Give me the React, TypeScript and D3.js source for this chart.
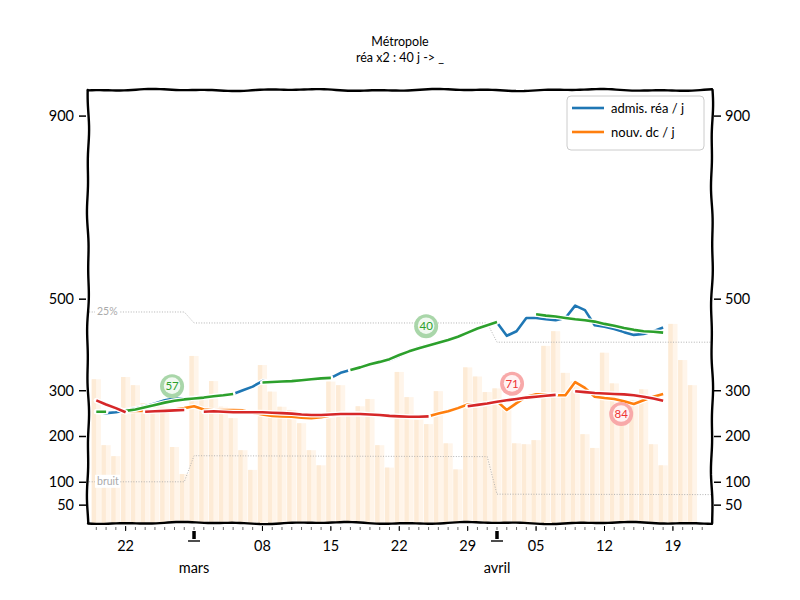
import React from "react";
import * as d3 from "d3";

// ---------- data ----------
const SERIES_START = "2021-02-19"; // first day of the daily series
const BARS_START = "2021-02-19";

// admissions en réa / jour (raw daily)
const admisRea = [
  254, 251, 253, 257, 261, 266, 272, 279, 283, 283,
  284, 286, 288, 290, 293, 301, 309, 321, 319, 320, 321, 323, 325, 327, 328, 339, 345, 352, 358, 364, 367, 376, 386, 395, 400, 404, 410, 418, 427, 436, 443,
  449, 420, 430, 459, 459, 456, 454, 459, 486, 476, 443, 440, 435, 428, 422, 424, 430, 438,
];
// nouveaux décès / jour (raw daily)
const nouvDc = [
  278, 270, 262, 255, 256, 256, 257, 258, 259, 262,
  266, 259, 257, 258, 258, 257, 252, 248, 245, 244, 243, 241, 240, 242, 246, 249, 250, 249, 248, 247, 246, 244, 243, 242, 244, 250, 255, 262, 270, 268, 272,
  277, 258, 273, 287, 292, 292, 290, 290, 319, 306, 287, 284, 282, 277, 271, 279, 287, 293,
];
// smoothed réa (drawn in segments)
const reaSmooth: (number | null)[] = [
  254, 254, null, 256, 259, 264, 269, 274, 278, 281,
  283, 285, 288, 290, 293, null, null, 318, 319, 320, 321, 323, 325, 327, 328, null, 345, 351, 358, 363, 369, 378, 386, 393, 399, 405, 411, 418, 427, 436, 443,
  450, null, null, null, 467, 464, 462, 459, 456, 454, 451, 446, 442, 437, 433, 430, 429, 427,
];
// smoothed décès (drawn in segments)
const dcSmooth: (number | null)[] = [
  279, 270, 262, 253, null, 254, 255, 256, 257, 258,
  null, 254, 255, 254, 253, 253, 253, 253, 252, 251, 250, 248, 247, 247, 248, 249, 249, 249, 248, 247, 245, 244, 243, 243, 244, null, null, null, 266, 269, 272,
  276, 279, 282, 285, 287, 289, 291, null, 299, 297, 295, 294, 293, 292, 290, 287, 283, 278,
];
// daily background bars
const barValues = [
  325, 181, 157, 330, 312, 273, 270, 265, 177, 118,
  376, 290, 321, 265, 240, 170, 127, 356, 298, 265, 258, 229, 170, 137, 320, 312, 254, 266, 282, 181, 132, 341, 286, 243, 227, 299, 185, 128, 351, 331, 297,
  305, 265, 185, 183, 192, 398, 430, 339, 320, 205, 175, 383, 316, 280, 280, 303, 183, 137, 446, 367, 312,
];

// reference levels
const refDates = ["2021-02-18", "2021-02-28", "2021-03-01", "2021-03-31", "2021-04-01", "2021-04-23"];
const ref25 = [472, 472, 448, 448, 406, 406];
const refBruit = [101, 101, 158, 156, 74, 73];

// axes
const yTicks = [50, 100, 200, 300, 500, 900];
const weekTickDates = ["2021-02-22", "2021-03-08", "2021-03-15", "2021-03-22", "2021-03-29", "2021-04-05", "2021-04-12", "2021-04-19"];
const weekTickLabels = ["22", "08", "15", "22", "29", "05", "12", "19"];
const monthTickDates = ["2021-03-01", "2021-04-01"];
const monthTickLabels = ["mars", "avril"];

// round annotations
const annotDates = ["2021-02-26T18:00:00Z", "2021-03-24T18:00:00Z", "2021-04-02T13:00:00Z", "2021-04-13T17:00:00Z"];
const annotValues = [310, 441, 315, 249];
const annotLabels = ["57", "40", "71", "84"];
const annotKinds = ["g", "g", "r", "r"];

const legendLabels = ["admis. réa / j", "nouv. dc / j"];

// ---------- layout ----------
const W = 800, H = 600;
const L = 88, R = 712, T = 90, B = 523;
const FONT = "Lato, 'DejaVu Sans', sans-serif";
const C = { blue: "#1f77b4", orange: "#ff7f0e", green: "#2ca02c", red: "#d62728" };

const parse = (s: string) => new Date(s.length > 10 ? s : s + "T00:00:00Z");
const dayAt = (start: string, i: number) => d3.utcDay.offset(parse(start), i);

function wiggle(x1: number, y1: number, x2: number, y2: number, amp = 1.1, seed = 0) {
  const len = Math.hypot(x2 - x1, y2 - y1);
  const n = Math.max(2, Math.round(len / 4));
  const nx = -(y2 - y1) / len, ny = (x2 - x1) / len;
  const pts: [number, number][] = d3.range(n + 1).map((i) => {
    const t = i / n;
    const o = amp * (Math.sin((t * len) / 23 + seed) * 0.6 + Math.sin((t * len) / 9 + seed * 2.3) * 0.4);
    return [x1 + (x2 - x1) * t + nx * o, y1 + (y2 - y1) * t + ny * o];
  });
  return d3.line()(pts) || "";
}

export default function App() {
  const x = d3
    .scaleUtc()
    .domain([new Date(Date.UTC(2021, 1, 18, 3, 36)), new Date(Date.UTC(2021, 3, 23))])
    .range([L, R]);
  const y = d3.scaleLinear().domain([11, 957]).range([B, T]);
  const dayW = x(parse("2021-03-02")) - x(parse("2021-03-01"));

  const mkLine = (vals: (number | null)[]) =>
    d3
      .line<number | null>()
      .defined((d) => d != null)
      .x((_, i) => x(dayAt(SERIES_START, i)))
      .y((d) => y(d as number))(vals) || "";

  const refLine = (vals: number[]) =>
    d3
      .line<number>()
      .x((_, i) => x(parse(refDates[i])))
      .y((d) => y(d))(vals) || "";

  const series = [
    { vals: admisRea, color: C.blue },
    { vals: nouvDc, color: C.orange },
    { vals: reaSmooth, color: C.green },
    { vals: dcSmooth, color: C.red },
  ];

  return (
    <svg width={W} height={H} style={{ position: "absolute", left: 0, top: 0, background: "#fff" }} fontFamily={FONT}>
      <defs>
        <clipPath id="plot">
          <rect x={L} y={T} width={R - L} height={B - T} />
        </clipPath>
      </defs>
      <rect x={0} y={0} width={W} height={H} fill="#fff" />

      {/* title */}
      <text x={400} y={46} textAnchor="middle" fontSize={12.5}>Métropole</text>
      <text x={400} y={62} textAnchor="middle" fontSize={12.5}>réa x2 : 40 j -&gt; _</text>

      <g clipPath="url(#plot)">
        {/* bars */}
        {barValues.map((v, i) => {
          const cx = x(dayAt(BARS_START, i));
          return (
            <g key={"b" + i}>
              <rect x={cx - dayW * 0.47} y={y(v)} width={dayW * 0.94} height={B - y(v)} fill="#fff5ea" />
              <rect x={cx - dayW * 0.47} y={y(v)} width={dayW * 0.45} height={B - y(v)} fill="#fdebd6" />
            </g>
          );
        })}

        {/* reference dotted lines */}
        <path d={refLine(ref25)} fill="none" stroke="#aaa" strokeWidth={0.9} strokeDasharray="1,1.6" />
        <path d={refLine(refBruit)} fill="none" stroke="#aaa" strokeWidth={0.9} strokeDasharray="1,1.6" />
        <rect x={95} y={y(ref25[0]) - 7} width={25} height={13} fill="#fff" />
        <text x={97} y={y(ref25[0]) + 3} fontSize={10.5} fill="#aaa">25%</text>
        <rect x={95} y={y(refBruit[0]) - 7} width={25} height={13} fill="#fff" />
        <text x={97} y={y(refBruit[0]) + 3} fontSize={10.5} fill="#aaa">bruit</text>

        {/* data lines */}
        {series.map((s, k) => (
          <g key={"s" + k}>
            <path d={mkLine(s.vals)} fill="none" stroke="#fff" strokeWidth={5} strokeLinejoin="round" strokeLinecap="round" />
            <path d={mkLine(s.vals)} fill="none" stroke={s.color} strokeWidth={2.6} strokeLinejoin="round" />
          </g>
        ))}

        {/* annotations */}
        {annotLabels.map((lab, i) => {
          const cx = x(parse(annotDates[i]));
          const cy = y(annotValues[i]);
          const g = annotKinds[i] === "g";
          return (
            <g key={"a" + i}>
              <circle cx={cx} cy={cy} r={12} fill={g ? "#a9d6a9" : "#f8a9a9"} />
              <circle cx={cx} cy={cy - 0.5} r={8.3} fill={g ? "#f1f9f1" : "#fff3f3"} />
              <text x={cx} y={cy + 4} textAnchor="middle" fontSize={11.5} fill={g ? C.green : "#e33"}>{lab}</text>
            </g>
          );
        })}
      </g>

      {/* frame */}
      <g fill="none" stroke="#000" strokeWidth={2.4} strokeLinecap="round">
        <path d={wiggle(L, B, R, B, 1.1, 0.3)} />
        <path d={wiggle(L, T, R, T, 1.1, 1.7)} />
        <path d={wiggle(L, T, L, B, 1.1, 2.9)} />
        <path d={wiggle(R, T, R, B, 1.1, 4.1)} />
      </g>

      {/* y ticks, both sides */}
      {yTicks.map((t) => (
        <g key={"y" + t}>
          <line x1={79} x2={86} y1={y(t)} y2={y(t)} stroke="#000" strokeWidth={1.5} />
          <text x={74} y={y(t) + 5} textAnchor="end" fontSize={14.5}>{t}</text>
          <line x1={714} x2={721} y1={y(t)} y2={y(t)} stroke="#000" strokeWidth={1.5} />
          <text x={725} y={y(t) + 5} textAnchor="start" fontSize={14.5}>{t}</text>
        </g>
      ))}

      {/* x minor ticks (daily) */}
      {d3.utcDay.range(x.domain()[0], x.domain()[1]).map((d, i) => {
        const d1 = d3.utcDay.ceil(d);
        const xx = x(d1);
        if (xx < L || xx > R) return null;
        return <line key={"m" + i} x1={xx} x2={xx} y1={527} y2={530} stroke="#666" strokeWidth={1} />;
      })}
      {weekTickDates.map((d, i) => (
        <g key={"w" + i}>
          <line x1={x(parse(d))} x2={x(parse(d))} y1={526} y2={531} stroke="#000" strokeWidth={1} />
          <text x={x(parse(d))} y={551} textAnchor="middle" fontSize={14.5}>{weekTickLabels[i]}</text>
        </g>
      ))}
      {monthTickDates.map((d, i) => {
        const xx = x(parse(d));
        return (
          <g key={"mo" + i}>
            <line x1={xx} x2={xx} y1={531} y2={539} stroke="#000" strokeWidth={3.5} />
            <line x1={xx - 6} x2={xx + 6} y1={541} y2={541} stroke="#000" strokeWidth={1.4} />
            <text x={xx} y={573} textAnchor="middle" fontSize={14.5}>{monthTickLabels[i]}</text>
          </g>
        );
      })}

      {/* legend */}
      <rect x={567} y={96} width={137} height={54} rx={4} fill="#fff" fillOpacity={0.9} stroke="#ccc" strokeWidth={1} />
      {[C.blue, C.orange].map((c, i) => (
        <g key={"l" + i}>
          <line x1={572} x2={604} y1={108 + i * 24} y2={108 + i * 24} stroke={c} strokeWidth={2.6} />
          <text x={611} y={113 + i * 24} fontSize={13}>{legendLabels[i]}</text>
        </g>
      ))}
    </svg>
  );
}
